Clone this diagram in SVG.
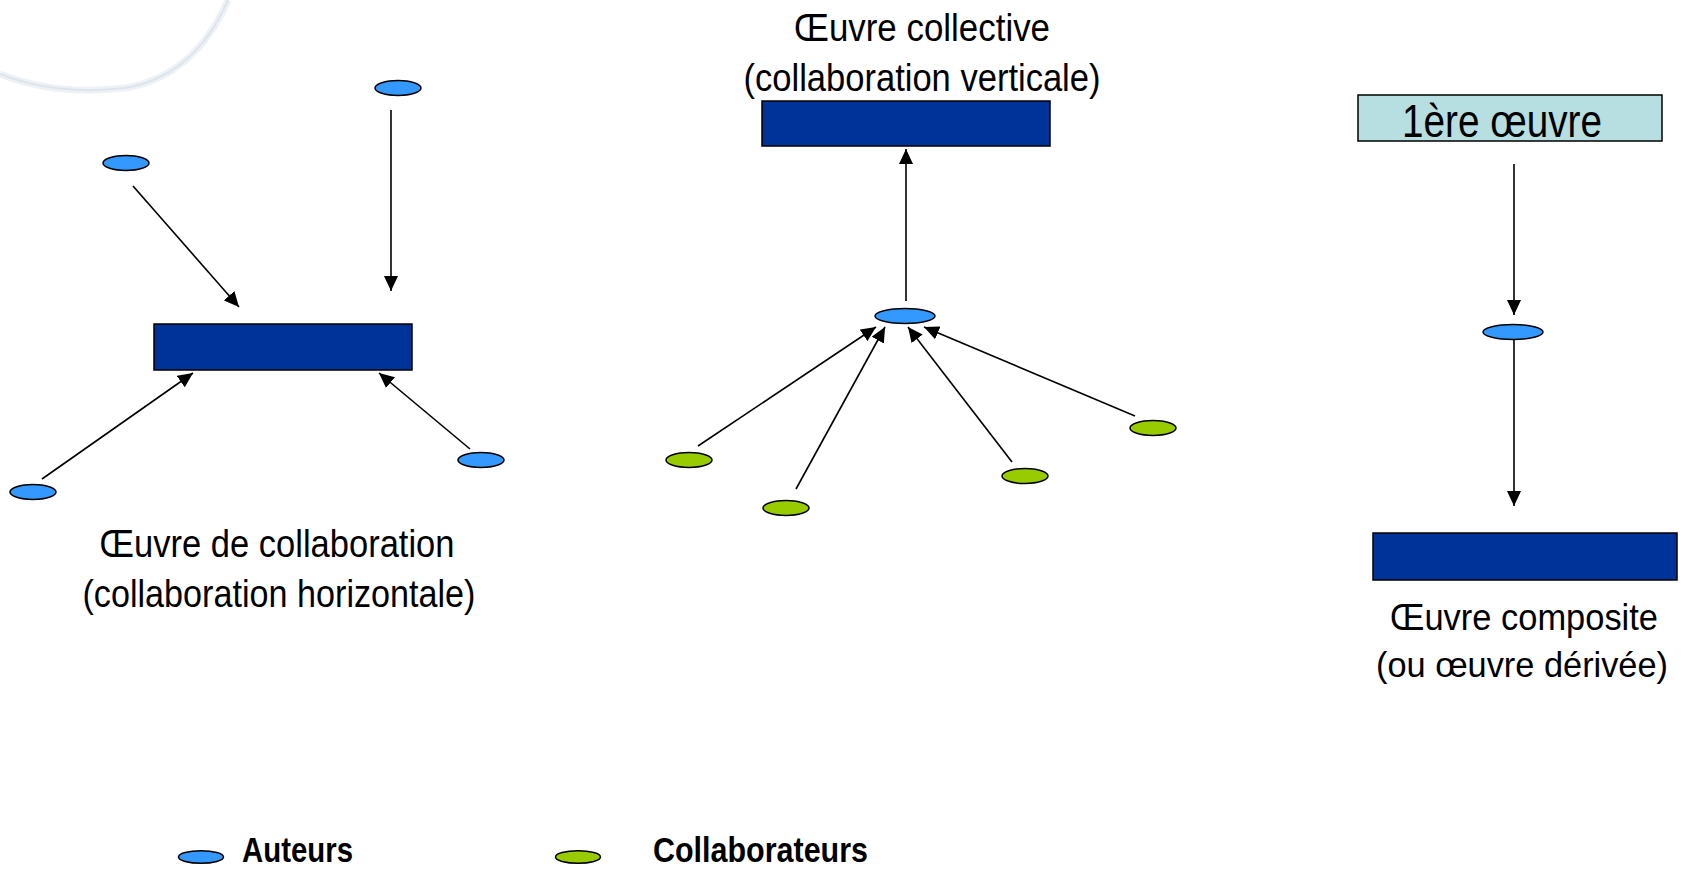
<svg xmlns="http://www.w3.org/2000/svg" width="1685" height="870" viewBox="0 0 1685 870">
<style>
.lbl{font-family:"Liberation Sans Narrow","Liberation Sans",Arial,sans-serif;font-size:38px;fill:#000}
.rl{font-size:37px}
.rs{font-size:35px}
.leg{font-family:"Liberation Sans Narrow","Liberation Sans",Arial,sans-serif;font-size:35px;font-weight:bold;fill:#000}
.auth{fill:#3399FF;stroke:#000;stroke-width:1.5}
.coll{fill:#99CC00;stroke:#000;stroke-width:1.5}
.work{fill:#003399;stroke:#000;stroke-width:1.5}
.first{fill:#B7DEE0;stroke:#000;stroke-width:1.5}
.conn line{stroke:#000;stroke-width:1.6;marker-end:url(#arr)}
</style>
<defs>
<marker id="arr" markerWidth="15" markerHeight="14" refX="15" refY="7" orient="auto" markerUnits="userSpaceOnUse">
<path d="M0,0 L15,7 L0,14 z" fill="#000"/>
</marker>
</defs>
<rect width="1685" height="870" fill="#fff"/>
<g id="decor" fill="none">
<path d="M0,74 Q55,96 125,88 Q195,76 228,0" stroke="#eef2f6" stroke-width="7"/>
<path d="M0,74 Q55,96 125,88 Q195,76 228,0" stroke="#dde4ec" stroke-width="2"/>
</g>

<g id="left">
<g id="L-a1"><ellipse class="auth" cx="398" cy="88" rx="23" ry="7.5"/></g>
<g id="L-a2"><ellipse class="auth" cx="126" cy="163" rx="23" ry="7.5"/></g>
<g id="L-a3"><ellipse class="auth" cx="33" cy="492" rx="23" ry="7.5"/></g>
<g id="L-a4"><ellipse class="auth" cx="481" cy="460" rx="23" ry="7.5"/></g>
<g id="L-work"><rect class="work" x="154" y="324" width="258" height="46"/></g>
<g id="L-label">
<text class="lbl" x="277" y="557" text-anchor="middle" textLength="355" lengthAdjust="spacingAndGlyphs">Œuvre de collaboration</text>
<text class="lbl" x="279" y="607" text-anchor="middle" textLength="393" lengthAdjust="spacingAndGlyphs">(collaboration horizontale)</text>
</g>
</g>

<g id="middle">
<g id="M-label">
<text class="lbl" x="922" y="41" text-anchor="middle" textLength="256" lengthAdjust="spacingAndGlyphs">Œuvre collective</text>
<text class="lbl" x="922" y="91" text-anchor="middle" textLength="357" lengthAdjust="spacingAndGlyphs">(collaboration verticale)</text>
</g>
<g id="M-work"><rect class="work" x="762" y="101" width="288" height="45"/></g>
<g id="M-a1"><ellipse class="auth" cx="905" cy="316" rx="30" ry="7.5"/></g>
<g id="M-c1"><ellipse class="coll" cx="689" cy="460" rx="23" ry="7.5"/></g>
<g id="M-c2"><ellipse class="coll" cx="786" cy="508" rx="23" ry="7.5"/></g>
<g id="M-c3"><ellipse class="coll" cx="1025" cy="476" rx="23" ry="7.5"/></g>
<g id="M-c4"><ellipse class="coll" cx="1153" cy="428" rx="23" ry="7.5"/></g>
</g>

<g id="right">
<g id="R-first"><rect class="first" x="1358" y="95" width="304" height="46"/>
<text class="lbl" x="1402" y="137" style="font-size:47px" textLength="200" lengthAdjust="spacingAndGlyphs">1ère œuvre</text></g>
<g id="R-a1"><ellipse class="auth" cx="1513" cy="332" rx="30" ry="7.5"/></g>
<g id="R-work"><rect class="work" x="1373" y="533" width="304" height="47"/></g>
<g id="R-label">
<text class="lbl rl" x="1524" y="630" text-anchor="middle" textLength="268" lengthAdjust="spacingAndGlyphs">Œuvre composite</text>
<text class="lbl rs" x="1522" y="677" text-anchor="middle" textLength="292" lengthAdjust="spacingAndGlyphs">(ou œuvre dérivée)</text>
</g>
</g>

<g id="legend">
<g id="leg-auth"><ellipse class="auth" cx="201" cy="857" rx="22.5" ry="6.3"/>
<text class="leg" x="242" y="862" textLength="111" lengthAdjust="spacingAndGlyphs">Auteurs</text></g>
<g id="leg-coll"><ellipse class="coll" cx="578" cy="857" rx="22.5" ry="6.3"/>
<text class="leg" x="653" y="862" textLength="215" lengthAdjust="spacingAndGlyphs">Collaborateurs</text></g>
</g>

<g id="connectors" class="conn">
<line x1="391" y1="110" x2="391" y2="291"/>
<line x1="133" y1="186" x2="239" y2="307"/>
<line x1="42" y1="479" x2="193" y2="373"/>
<line x1="470" y1="449" x2="379" y2="373"/>
<line x1="906" y1="301" x2="906" y2="149"/>
<line x1="698" y1="446" x2="876" y2="327"/>
<line x1="796" y1="489" x2="885" y2="327"/>
<line x1="1012" y1="462" x2="908" y2="327"/>
<line x1="1135" y1="416" x2="924" y2="327"/>
<line x1="1514" y1="164" x2="1514" y2="315"/>
<line x1="1514" y1="340" x2="1514" y2="506"/>
</g>
</svg>
